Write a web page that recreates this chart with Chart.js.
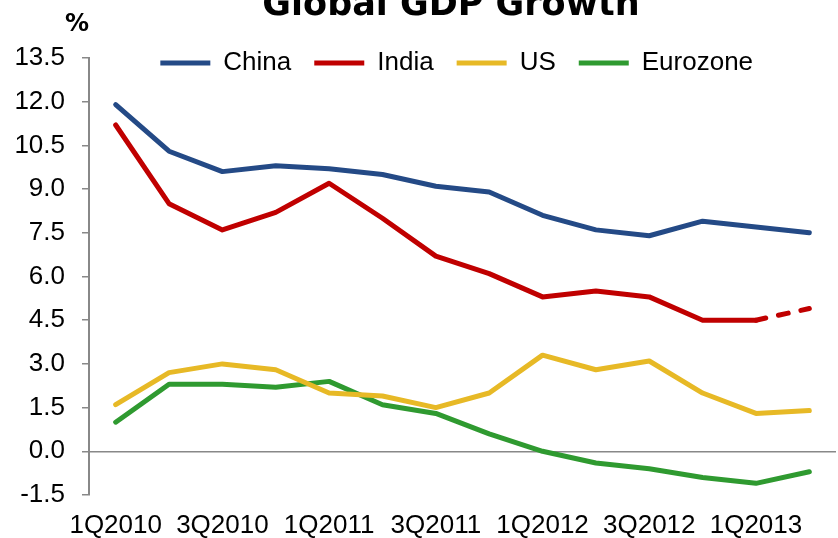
<!DOCTYPE html>
<html>
<head>
<meta charset="utf-8">
<script src="https://cdn.jsdelivr.net/npm/chart.js@4"></script>
<style>
  body { margin: 0; background: #fff; }
  #wrap { width: 838px; height: 538px; }
</style>
</head>
<body>
<div id="wrap"><canvas id="gdpChart"></canvas></div>
<script>
// quarters 1Q2010 .. 2Q2013
const quarters = ['1Q2010', '2Q2010', '3Q2010', '4Q2010', '1Q2011', '2Q2011', '3Q2011',
  '4Q2011', '1Q2012', '2Q2012', '3Q2012', '4Q2012', '1Q2013', '2Q2013'];

const china    = [11.9, 10.3, 9.6, 9.8, 9.7, 9.5, 9.1, 8.9, 8.1, 7.6, 7.4, 7.9, 7.7, 7.5];
const india    = [11.2, 8.5, 7.6, 8.2, 9.2, 8.0, 6.7, 6.1, 5.3, 5.5, 5.3, 4.5, 4.5, 4.9];
const us       = [1.6, 2.7, 3.0, 2.8, 2.0, 1.9, 1.5, 2.0, 3.3, 2.8, 3.1, 2.0, 1.3, 1.4];
const eurozone = [1.0, 2.3, 2.3, 2.2, 2.4, 1.6, 1.3, 0.6, 0.0, -0.4, -0.6, -0.9, -1.1, -0.7];

// India's last point is an estimate -> dashed segment
const indiaEstimateFrom = 12;

const axisFont = { family: '"Liberation Sans", Arial', size: 26 };

function line(label, data, color, extra) {
  return Object.assign({
    label: label,
    data: data,
    borderColor: color,
    backgroundColor: color,
    borderWidth: 5,
    borderJoinStyle: 'round',
    borderCapStyle: 'round',
    pointRadius: 0,
    tension: 0
  }, extra || {});
}

// title and "%" unit label, title partly cut off at the top like the original
const headerText = {
  id: 'headerText',
  afterDraw(chart) {
    const ctx = chart.ctx;
    ctx.save();
    ctx.fillStyle = '#000';
    ctx.textBaseline = 'alphabetic';
    ctx.textAlign = 'center';
    ctx.font = 'bold 35px "DejaVu Sans"';
    ctx.fillText('Global GDP Growth', 451, 15);
    ctx.textAlign = 'left';
    ctx.font = 'bold 24px "DejaVu Sans"';
    ctx.fillText('%', 65, 31);
    ctx.restore();
  }
};

// legend sits inside the plot, up against the top
const legendNudge = {
  id: 'legendNudge',
  afterLayout(chart) {
    const lg = chart.legend;
    if (lg) {
      const h = lg.bottom - lg.top;
      lg.top = 27;
      lg.bottom = lg.top + h;
      lg.left += 40;
      lg.right += 40;
    }
  }
};

new Chart(document.getElementById('gdpChart').getContext('2d'), {
  type: 'line',
  data: {
    labels: quarters,
    datasets: [
      line('China', china, '#244A86'),
      line('India', india, '#C00000', {
        segment: {
          borderDash: c => c.p0DataIndex >= indiaEstimateFrom ? [10, 13] : undefined
        }
      }),
      line('US', us, '#E7B926'),
      line('Eurozone', eurozone, '#2F9A30')
    ]
  },
  options: {
    responsive: true,
    maintainAspectRatio: false,
    animation: false,
    layout: { padding: { top: -1, left: -2.6, right: 2, bottom: -18.2 } },
    plugins: {
      legend: {
        position: 'top',
        labels: {
          color: '#000',
          font: axisFont,
          boxWidth: 50,
          boxHeight: 5,
          padding: 23,
          generateLabels(chart) {
            const items = Chart.defaults.plugins.legend.labels.generateLabels(chart);
            items.forEach(it => { it.lineWidth = 0; it.lineDash = []; it.fillStyle = it.strokeStyle; });
            return items;
          }
        }
      },
      tooltip: { enabled: false }
    },
    scales: {
      x: {
        offset: true,
        grid: { display: false, drawTicks: false },
        border: { display: false },
        ticks: {
          autoSkip: false,
          maxRotation: 0,
          padding: 15,
          color: '#000',
          font: axisFont,
          callback: (v, i) => i % 2 === 0 ? quarters[i] : ''
        }
      },
      y: {
        min: -1.5,
        max: 13.5,
        grid: {
          color: c => c.tick && c.tick.value === 0 ? '#888888' : 'rgba(0,0,0,0)',
          lineWidth: 1.5,
          drawTicks: true,
          tickLength: 7,
          tickColor: '#888888'
        },
        border: { display: true, color: '#888888', width: 2 },
        ticks: {
          stepSize: 1.5,
          padding: 17,
          color: '#000',
          font: axisFont,
          callback: v => v.toFixed(1)
        }
      }
    }
  },
  plugins: [headerText, legendNudge]
});
</script>
</body>
</html>
